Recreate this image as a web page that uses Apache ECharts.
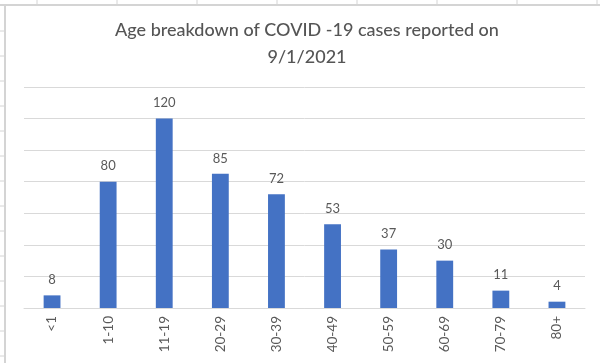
<!DOCTYPE html>
<html><head><meta charset="utf-8">
<script src="https://cdn.jsdelivr.net/npm/echarts@6/dist/echarts.min.js"></script>
<style>html,body{margin:0;padding:0;background:#fff}#c{width:605px;height:363px}</style>
</head><body><div id="c"></div>
<script>
const categories = ['<1','1-10','11-19','20-29','30-39','40-49','50-59','60-69','70-79','80+'];
const cases = [8,80,120,85,72,53,37,30,11,4];
const titleText = 'Age breakdown of COVID -19 cases reported on\n9/1/2021';

const chart = echarts.init(document.getElementById('c'));
const deco = [];
deco.push({type:'line',shape:{x1:0,y1:5,x2:600,y2:5},style:{stroke:'#d4d4d4',lineWidth:2},silent:true});
deco.push({type:'line',shape:{x1:5,y1:5,x2:5,y2:363},style:{stroke:'#d4d4d4',lineWidth:2},silent:true});
for (let x=37; x<600; x+=80) deco.push({type:'line',shape:{x1:x,y1:0,x2:x,y2:5},style:{stroke:'#d4d4d4',lineWidth:1},silent:true});
for (let y=31; y<363; y+=25) deco.push({type:'line',shape:{x1:0,y1:y,x2:4,y2:y},style:{stroke:'#d4d4d4',lineWidth:1},silent:true});

chart.setOption({
  animation:false,
  backgroundColor:'#fff',
  textStyle:{fontFamily:'Lato'},
  title:{text:titleText,left:302,textAlign:'center',top:12,
    textStyle:{fontFamily:'Lato',fontSize:18,fontWeight:500,color:'#555555',lineHeight:27}},
  grid:{left:24,right:20,top:87,bottom:55},
  xAxis:{type:'category',data:categories,
    axisLine:{lineStyle:{color:'#d9d9d9',width:1}},
    axisTick:{show:false},
    axisLabel:{rotate:90,color:'#595959',fontSize:13.5,margin:8,interval:0}},
  yAxis:{type:'value',min:0,max:140,interval:20,
    axisLine:{show:false},axisTick:{show:false},axisLabel:{show:false},
    splitLine:{lineStyle:{color:'#d9d9d9',width:1}}},
  series:[{type:'bar',data:cases,barWidth:'30%',
    itemStyle:{color:'#4472C4'},
    label:{show:true,position:'top',color:'#595959',fontSize:13,distance:9}}],
  graphic:deco
});
</script></body></html>
